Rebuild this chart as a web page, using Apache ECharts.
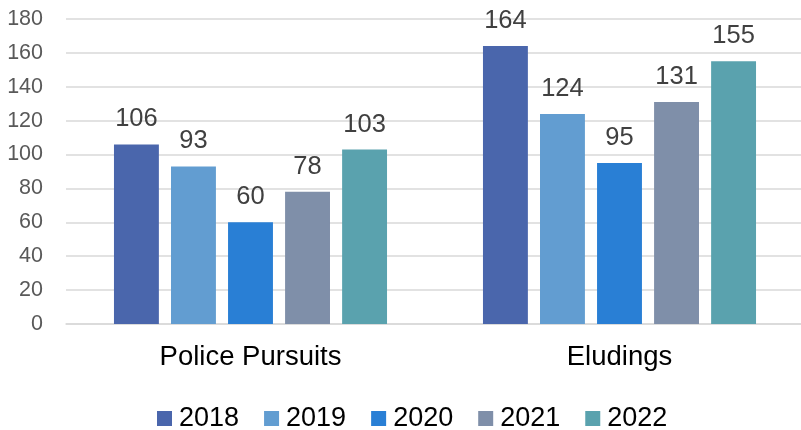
<!DOCTYPE html>
<html>
<head>
<meta charset="utf-8">
<script src="https://cdn.jsdelivr.net/npm/echarts@6/dist/echarts.min.js"></script>
<style>html,body{margin:0;padding:0;background:#fff;overflow:hidden;width:801px;height:430px}#c{width:806px;height:430px}</style>
</head>
<body>
<div id="c"></div>
<script>
const categories = ['Police Pursuits', 'Eludings'];
const years = ['2018', '2019', '2020', '2021', '2022'];
const v2018 = [106, 164];
const v2019 = [93, 124];
const v2020 = [60, 95];
const v2021 = [78, 131];
const v2022 = [103, 155];
const yTicks = { min: 0, max: 180, interval: 20 };
const colors = ['#4A66AC', '#629DD1', '#297FD5', '#7F8FA9', '#5AA2AE'];
const seriesValues = [v2018, v2019, v2020, v2021, v2022];

const font = 'Liberation Sans, Arial, sans-serif';
const chart = echarts.init(document.getElementById('c'), null, { renderer: 'canvas' });
chart.setOption({
  animation: false,
  color: colors,
  grid: { left: 66, right: 2, top: 19, bottom: 106, containLabel: false },
  legend: {
    data: years,
    top: 400,
    left: 152,
    itemWidth: 15,
    itemHeight: 15,
    itemGap: 25,
    icon: 'rect',
    textStyle: { fontFamily: font, fontSize: 27, color: '#000000', padding: [0, 0, 0, 2] }
  },
  xAxis: {
    type: 'category',
    data: categories,
    axisLine: { lineStyle: { color: '#d9d9d9', width: 1.5 } },
    axisTick: { show: false },
    axisLabel: { fontFamily: font, fontSize: 27.5, color: '#000000', margin: 19 }
  },
  yAxis: {
    type: 'value',
    min: yTicks.min, max: yTicks.max, interval: yTicks.interval,
    axisLine: { show: false },
    axisTick: { show: false },
    splitLine: { lineStyle: { color: '#d9d9d9', width: 1.5 } },
    axisLabel: { fontFamily: font, fontSize: 21.5, color: '#595959', margin: 23 }
  },
  series: years.map((y, i) => ({
    name: y,
    type: 'bar',
    data: seriesValues[i],
    barGap: '27%',
    barCategoryGap: '26%',
    itemStyle: { color: colors[i] },
    label: {
      show: true,
      position: 'top',
      distance: 12,
      fontFamily: font,
      fontSize: 25.5,
      color: '#404040'
    }
  }))
});
</script>
</body>
</html>
